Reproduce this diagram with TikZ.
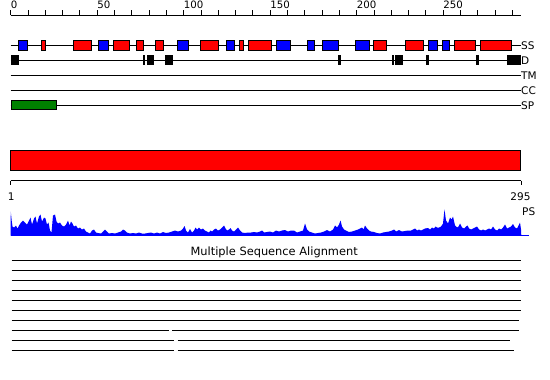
\documentclass[tikz,border=0pt]{standalone}
\usepackage{fontspec}
\setmainfont{DejaVu Sans}
\definecolor{spgreen}{RGB}{0,128,0}
\begin{document}
\begin{tikzpicture}[x=1pt,y=-1pt,
  trk/.style={line width=1pt},
  tick/.style={line width=0.9pt},
  boxr/.style={draw=black,line width=0.9pt,fill=red},
  boxb/.style={draw=black,line width=0.9pt,fill=blue},
  boxk/.style={fill=black},
  lab/.style={font=\fontsize{10.5}{12}\selectfont,inner sep=0pt,anchor=base west},
  tlab/.style={font=\fontsize{10.2}{11}\selectfont,inner sep=0pt,anchor=base west},
  nlab/.style={font=\fontsize{10.5}{12}\selectfont,inner sep=0pt,anchor=base},
  aln/.style={line width=1pt}]
\useasboundingbox (0,0) rectangle (550,380);

% ---- top ruler ----
\coordinate (rL) at (10.7,15);
\coordinate (rR) at (521,15);
\draw[tick] (rL) -- (rR);
\foreach \i in {0,...,29} \draw[tick] ({10.7+17.3*\i},15) -- ++(0,-5);
\foreach \v in {0,50,100,150,200,250}
  \node[tlab] (t\v) at ({10.7+1.73*\v},8.3) {\v};

% ---- track labels ----
\node[lab] (ss) at (521,49.3) {SS};
\node[lab] (dd) at (521,64.3) {D};
\node[lab] (tm) at (521,79.3) {TM};
\node[lab] (cc) at (521,94.3) {CC};
\node[lab] (sp) at (521,109.3) {SP};

\coordinate (ssL) at (10.7,45);
\coordinate (ddL) at (10.7,60);
\coordinate (tmL) at (10.7,75);
\coordinate (ccL) at (10.7,90);
\coordinate (spL) at (10.7,105);
\draw[trk] (ssL) -- (ssL -| ss.west);
\draw[trk] (ddL) -- (ddL -| dd.west);
\draw[trk] (tmL) -- (tmL -| tm.west);
\draw[trk] (ccL) -- (ccL -| cc.west);
\draw[trk] (spL) -- (spL -| sp.west);

% ---- secondary structure ----
\foreach \a/\b/\c in {18.3/27.7/boxb, 41.3/46.3/boxr, 73.3/91.7/boxr, 98.3/108.7/boxb,
  113.3/129.7/boxr, 136.3/144.3/boxr, 155.3/163.7/boxr, 177.3/188.7/boxb,
  200.3/219.3/boxr, 226.3/234.7/boxb, 239.3/243.7/boxr, 248.3/271.7/boxr,
  276/290.7/boxb, 307.3/314.7/boxb, 322.3/338.7/boxb, 355.3/369.7/boxb,
  373.3/386.7/boxr, 405.3/423.7/boxr, 428/437.7/boxb, 442/449.7/boxb,
  454.3/475.7/boxr, 480.3/511.7/boxr}
  \draw[\c] (\a+0.5,40.5) rectangle (\b-0.5,50);

% ---- disorder ----
\foreach \a/\b in {10.7/19, 143/145, 146.7/154, 165.3/173, 338.3/340.7,
  392.3/394, 395.3/403, 426.3/428.7, 476.3/478.7, 507.3/520.7}
  \fill[boxk] (\a,55) rectangle (\b,65);

% ---- signal peptide ----
\draw[draw=black,line width=0.9pt,fill=spgreen] (11.2,100.5) rectangle (56.2,109.7);

% ---- big red bar ----
\draw[draw=black,line width=1pt,fill=red] (10.5,150.5) rectangle (520.5,170.3);

% ---- lower axis ----
\coordinate (aL) at (10.7,180.7);
\coordinate (aR) at (521,180.7);
\draw[tick] (aL) -- (aR);
\draw[tick] (aL) -- ++(0,4.5);
\draw[tick] (aR) -- ++(0,4.5);
\node[nlab] (one) at (11.2,200) {1};
\node[nlab] (end) at (520.5,200) {295};
\node[lab] (ps) at (522,215) {PS};

% ---- profile ----
\fill[blue] (10.5,235.5) \foreach \x/\h in {
10.8/24,11.8/14,12.5/9,14/8,16/10,17.5/7,19/10,21/13,23/15,25/13,27/11,29/15,30.5/18,32/11,34/17,35.5/19,37/12,39/19,40.5/21,42/14,44/18,45.5/17,47/11,48.5/13,50/5,51.5/3,53/20,55/21,56.5/14,58/12,60/13,62/10,64/9,66/11,68/15,69.5/10,71/14,72.5/12,74/9,76/10,78/7,80/8,82/6,84/7,86/4,88/3,90/2,92/5,94/6,96/3,98/2.5,101/2,103/4,105/6,107/4,109/2,112/2.5,115/2,118/3,121/4,123/6,125/5,127/3,130/2,133/2.5,136/2,139/3,142/2,145/2,148/2.5,151/3,154/2,157/3,160/2,163/3.5,166/2.5,169/3,172/4,175/5,178/4,181/5,183/7,184.5/9.5,186/5,188/3,190/6.5,192/3,194/5,195.5/8,197/6,199/8,201/6,203/7,205/5,207/4,209/3,210.5/5,212/4,214/6,216/7,218/5,220/6,222/8,224/10,225.5/7,227/5,229/6,230.5/7.5,232/5,234/4,236/6,238/8,240/5,242/3,245/2.5,248/3,251/3,254/3.5,257/3,260/4,262/5,264/3,267/3.5,270/4,273/3,276/5,279/4,282/5,285/5.5,288/4,291/5,294/5,297/3,300/4,303/5,305/12,307/6,309/4,312/3,315/2,318/2.5,321/3,324/4,327/5.5,330/4,333/6,335/10,337/8,339/11,340.5/15,342/9,344/6,346/5,349/3.5,352/4,355/5,358/6,360/7,362/8,363.5/6,365/10,367/7,369/5,371/4,374/3.5,377/2.5,380/2,383/3,386/3.5,389/4,392/5,394/6,396/4,399/5.5,402/4,405/4.5,408/5,411/5,413/6,415/7,417/5,419/6,421/5,423/6,425/7,428/7.5,430/6,432/8,434/7,435.5/9,437/8,439/8,441/9,443/12,444.5/26,446/15,448/12,450/18,451.5/16,453/19,455/10,457/8,458.5/9,460/12,462/8,464/7,466/9,467.5/10,469/7,471/6,473/7,475/8,477/9,479/6,481/5,483/6,485/5,487/6,489/7,491/6,493/9,495/6,497/5,499/7,501/6,503/8,505/11,507/7,509/8,511/9,513/11.5,515/8,517/7,518.5/10,520/13,521/6,521.3/0}
  { -- (\x,{235.5-\h}) } -- cycle;
\coordinate (pL) at (10.5,235.5);
\coordinate (pR) at (529,235.5);
\draw[blue,line width=1pt] (pL) -- (pR);

% ---- multiple sequence alignment ----
\node[font=\fontsize{11.4}{13}\selectfont,inner sep=0pt,anchor=base] (msa) at (274.2,255) {Multiple Sequence Alignment};
\foreach \y in {260,270,280,290,300,310}
  \draw[aln] (11.7,\y) -- (521,\y);
\draw[aln] (11.7,320) -- (519,320);
\draw[aln] (11.7,330) -- (169.3,330);
\draw[aln] (172.3,330) -- (519,330);
\draw[aln] (11.7,340) -- (174.3,340);
\draw[aln] (177.7,340) -- (510,340);
\draw[aln] (11.7,350) -- (174.3,350);
\draw[aln] (177.7,350) -- (514,350);
\end{tikzpicture}
\end{document}
